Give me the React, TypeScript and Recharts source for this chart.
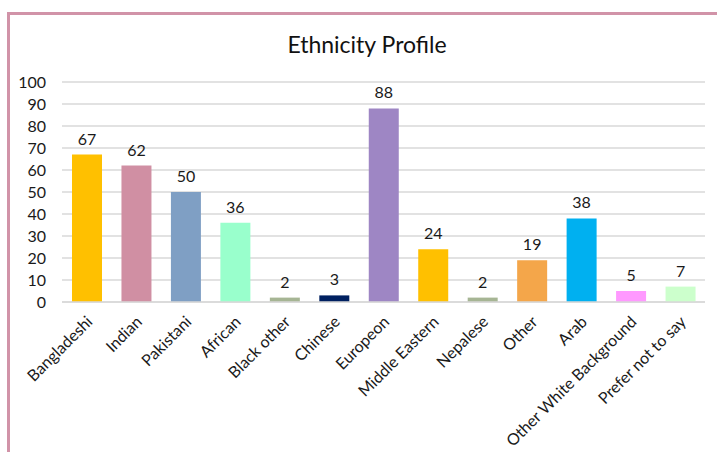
import { BarChart, Bar, XAxis, YAxis, CartesianGrid, Cell, LabelList } from "recharts"

const categories = [
  "Bangladeshi",
  "Indian",
  "Pakistani",
  "African",
  "Black other",
  "Chinese",
  "Europeon",
  "Middle Eastern",
  "Nepalese",
  "Other",
  "Arab",
  "Other White Background",
  "Prefer not to say",
]

const counts = [67, 62, 50, 36, 2, 3, 88, 24, 2, 19, 38, 5, 7]

const barColors = [
  "#FFC000",
  "#D08FA3",
  "#7F9FC4",
  "#99FFCC",
  "#A6B594",
  "#002060",
  "#9E86C4",
  "#FFC000",
  "#A6B594",
  "#F4A64A",
  "#00B0F0",
  "#FF99FF",
  "#CCFFCC",
]

const yTicks = [0, 10, 20, 30, 40, 50, 60, 70, 80, 90, 100]

const data = categories.map((name, i) => ({ name, value: counts[i] }))

const font = "Lato, 'Open Sans', sans-serif"

function SlantTick(props: any) {
  const { x, y, payload } = props
  return (
    <g transform={`translate(${x + 4},${y + 10})`}>
      <text
        x={0}
        y={0}
        dy={4}
        textAnchor="end"
        transform="rotate(-45)"
        fontSize={16}
        fontFamily={font}
        fill="#1a1a1a"
      >
        {payload.value}
      </text>
    </g>
  )
}

export default function App() {
  return (
    <div style={{ position: "absolute", left: 0, top: 0, width: 717, height: 452, background: "#fff", overflow: "hidden" }}>
      <div
        style={{
          position: "absolute",
          left: 7,
          top: 12,
          width: 730,
          height: 460,
          borderLeft: "3px solid #D193A8",
          borderTop: "3px solid #D193A8",
        }}
      />
      <div
        style={{
          position: "absolute",
          left: 0,
          top: 30,
          width: 734,
          textAlign: "center",
          fontFamily: font,
          fontSize: 23,
          color: "#111",
        }}
      >
        Ethnicity Profile
      </div>
      <div style={{ position: "absolute", left: 0, top: 0 }}>
        <BarChart width={717} height={452} data={data} margin={{ top: 82, right: 12, bottom: 0, left: 0 }} barSize={30}>
          <CartesianGrid vertical={false} stroke="#D9D9D9" strokeWidth={1.5} />
          <XAxis
            dataKey="name"
            interval={0}
            height={150}
            axisLine={{ stroke: "#D9D9D9", strokeWidth: 1.5 }}
            tickLine={false}
            tick={<SlantTick />}
          />
          <YAxis
            width={62}
            domain={[0, 100]}
            ticks={yTicks}
            interval={0}
            axisLine={false}
            tickLine={false}
            tickSize={0}
            tickMargin={16}
            tick={{ fontSize: 16, fontFamily: font, fill: "#1a1a1a" }}
          />
          <Bar dataKey="value" isAnimationActive={false}>
            {data.map((d, i) => (
              <Cell key={d.name} fill={barColors[i]} />
            ))}
            <LabelList dataKey="value" position="top" offset={10} fontSize={16} fontFamily={font} fill="#1a1a1a" />
          </Bar>
        </BarChart>
      </div>
    </div>
  )
}
